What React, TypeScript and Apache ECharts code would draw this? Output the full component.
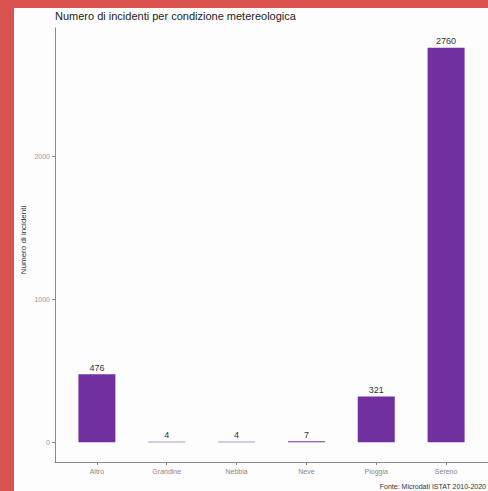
import React, { useEffect, useRef } from "react";
import * as echarts from "echarts";

const categories = ["Altro", "Grandine", "Nebbia", "Neve", "Pioggia", "Sereno"];
const values = [476, 4, 4, 7, 321, 2760];
const yTicks = [0, 1000, 2000];
const titleText = "Numero di incidenti per condizione metereologica";
const yTitle = "Numero di incidenti";
const caption = "Fonte: Microdati ISTAT 2010-2020";

export default function App() {
  const ref = useRef<HTMLDivElement>(null);
  useEffect(() => {
    document.body.style.margin = "0";
    const chart = echarts.init(ref.current!, null, { renderer: "svg" });
    const font = "'Liberation Sans', Arial, sans-serif";
    const xIdx = categories.map((_, i) => i);
    chart.setOption({
      animation: false,
      backgroundColor: "#d9534f",
      textStyle: { fontFamily: font },
      graphic: [
        { type: "rect", z: -10, shape: { x: 14, y: 8, width: 474, height: 483 }, style: { fill: "#fdfdfd" }, silent: true },
        { type: "text", x: 55, y: 16, style: { text: titleText, font: `11px ${font}`, fill: "#222", verticalAlign: "middle", align: "left" } },
        { type: "text", x: 23, y: 240, rotation: Math.PI / 2, style: { text: yTitle, font: `8px ${font}`, fill: "#333", verticalAlign: "middle", align: "center" } },
        { type: "text", x: 486, y: 486, style: { text: caption, font: `7px ${font}`, fill: "#333", verticalAlign: "middle", align: "right" } },
      ],
      grid: { left: 55, top: 28, right: -10, bottom: 29, containLabel: false },
      xAxis: {
        type: "value",
        min: -0.6,
        max: 5.6,
        minInterval: 1,
        maxInterval: 1,
        splitLine: { show: false },
        axisLine: { show: true, onZero: false, lineStyle: { color: "#8a8a8a", width: 1 } },
        axisTick: { show: true, length: 3, customValues: xIdx, lineStyle: { color: "#8a8a8a" } },
        axisLabel: {
          customValues: xIdx,
          formatter: (v: number) => categories[Math.round(v)] ?? "",
          fontSize: 7,
          color: "#888",
          margin: 6,
        },
      },
      yAxis: {
        type: "value",
        min: -138,
        max: 2898,
        minInterval: 1000,
        maxInterval: 1000,
        splitLine: { show: false },
        axisLine: { show: true, onZero: false, lineStyle: { color: "#8a8a8a", width: 1 } },
        axisTick: { show: true, length: 3, customValues: yTicks, lineStyle: { color: "#8a8a8a" } },
        axisLabel: { customValues: yTicks, fontSize: 7, color: "#999", margin: 5, formatter: (v: number) => String(v) },
      },
      series: [
        {
          type: "bar",
          data: values.map((v, i) => [i, v]),
          barWidth: 37,
          itemStyle: { color: "#7030A0" },
          label: { show: true, position: "top", distance: 2, fontSize: 9, color: "#333", formatter: (p: any) => String(p.value[1]) },
        },
      ],
    });
    return () => chart.dispose();
  }, []);
  return <div ref={ref} style={{ position: "fixed", left: 0, top: 0, width: 488, height: 491 }} />;
}
